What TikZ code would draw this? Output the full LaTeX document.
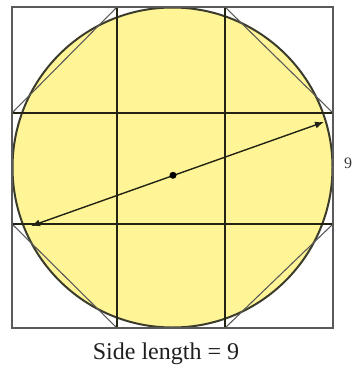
\documentclass[tikz,border=0pt]{standalone}
\usepackage{fontspec}
\setmainfont{Liberation Serif}
\usetikzlibrary{arrows.meta}
\definecolor{fillyel}{RGB}{255,245,150}
\definecolor{gridcol}{RGB}{35,35,20}
\definecolor{sqcol}{RGB}{90,90,90}
\definecolor{circcol}{RGB}{60,60,45}
\tikzset{
  sqline/.style={draw=sqcol, line width=1.4pt},
  octline/.style={draw=sqcol, line width=1.1pt},
  gridline/.style={draw=gridcol, line width=1.8pt},
  circline/.style={draw=circcol, line width=2pt, fill=fillyel},
  arrowline/.style={draw=gridcol, line width=1.4pt, {Latex[length=9pt,width=7pt]}-{Latex[length=9pt,width=7pt]}},
  dotnode/.style={circle, fill=black, inner sep=0pt, minimum size=7pt},
  lbl/.style={font=\fontsize{24}{27}\selectfont, text=black!88}
}
\begin{document}
\begin{tikzpicture}[x=1pt,y=-1pt]
\useasboundingbox (0,0) rectangle (353,372);
% circle
\draw[circline] (172.5,167.5) circle (160);
% octagon
\draw[octline] (117,7) -- (225,7) -- (333,113) -- (333,224) -- (225,328) -- (117,328) -- (12,224) -- (12,113) -- cycle;
% grid lines
\draw[gridline] (117,7) -- (117,328);
\draw[gridline] (225,7) -- (225,328);
\draw[gridline] (12,113) -- (333,113);
\draw[gridline] (12,224) -- (333,224);
% square
\draw[sqline] (12,7) rectangle (333,328);
% diameter arrow
\coordinate (ll) at (31,226);
\coordinate (ur) at (324,122);
\draw[arrowline] (ll) -- (ur);
\node[dotnode] (ctr) at (173,175.3) {};
% labels
\node[font=\fontsize{16}{18}\selectfont, text=black!78, anchor=west, inner sep=0pt] (nine) at (344,163) {9};
\node[lbl, inner sep=0pt] (side) at (166,354) {Side length = 9};
\end{tikzpicture}
\end{document}
